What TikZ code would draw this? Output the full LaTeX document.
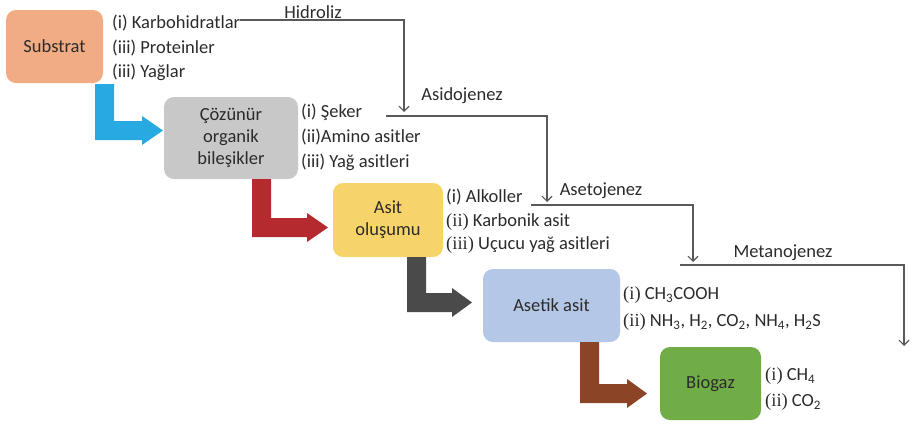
\documentclass[tikz,border=0pt]{standalone}
\usepackage{fontspec}
\setmainfont{Carlito}
\newfontfamily\rmp{Liberation Serif}
\usetikzlibrary{arrows.meta}
\definecolor{txt}{HTML}{2B2B2B}
\definecolor{lin}{HTML}{595959}
\definecolor{subc}{HTML}{F2AC84}
\definecolor{cozc}{HTML}{C8C8C8}
\definecolor{asitc}{HTML}{F7D46A}
\definecolor{asetc}{HTML}{B4C7E7}
\definecolor{bioc}{HTML}{70AD47}
\definecolor{arrblue}{HTML}{29A9E1}
\definecolor{arrred}{HTML}{B52A2E}
\definecolor{arrgray}{HTML}{4A4A4A}
\definecolor{arrbrown}{HTML}{8B4425}
\newcommand\fsz{\fontsize{18.5}{22}\selectfont}
\newcommand\larrow[6]{%
  \fill[#1] (#2,#3) -- ++(19,0) -- (#2+19,#4-19) -- (#5,#4-19) -- (#5,#4-9.5-14.5)
    -- (#6,#4-9.5) -- (#5,#4-9.5+14.5) -- (#5,#4) -- (#2,#4) -- cycle;}
\begin{document}
\begin{tikzpicture}[x=1pt,y=-1pt,
  box/.style={rounded corners=10pt, inner sep=0pt, text=txt, align=center, font=\fsz},
  lst/.style={anchor=west, inner sep=0pt, text height=13.5pt, text depth=2pt, font=\fsz, text=txt},
  lbl/.style={inner sep=0pt, font=\fsz, text=txt},
  proc/.style={draw=lin, line width=1.1pt, -{Straight Barb[length=5pt,width=10pt]}}]
\useasboundingbox (0,0) rectangle (912,424);

% boxes
\node[box, fill=subc, minimum width=97pt, minimum height=73pt] (sub) at (54.5,46.5) {Substrat};
\node[box, fill=cozc, minimum width=134pt, minimum height=82pt] (coz) at (231,138) {Çözünür\\organik\\bileşikler};
\node[box, fill=asitc, minimum width=110pt, minimum height=74pt] (asit) at (388,220) {Asit\\oluşumu};
\node[box, fill=asetc, minimum width=137pt, minimum height=73pt] (aset) at (551.5,305.5) {Asetik asit};
\node[box, fill=bioc, minimum width=101pt, minimum height=73pt] (bio) at (710.5,383.5) {Biogaz};

% thick L arrows
\larrow{arrblue}{95}{84}{140}{142}{163}
\larrow{arrred}{252}{179}{237}{307}{328}
\larrow{arrgray}{407}{257}{312}{452}{472}
\larrow{arrbrown}{580}{342}{403}{627}{647}

% lists
\node[lst] (s1) at (112,23) {(i) Karbohidratlar};
\node[lst] (s2) at (112,48) {(iii) Proteinler};
\node[lst] (s3) at (112,72) {(iii) Yağlar};

\node[lst] (c1) at (301,112) {(i) Şeker};
\node[lst] (c2) at (301,137) {(ii)Amino asitler};
\node[lst] (c3) at (301,162) {(iii) Yağ asitleri};

\node[lst] (a1) at (446,197) {(i) Alkoller};
\node[lst] (a2) at (446,221) {{\rmp(ii)} Karbonik asit};
\node[lst] (a3) at (446,244) {{\rmp(iii)} Uçucu yağ asitleri};

\node[lst] (e1) at (623,294) {{\rmp(i)} CH\textsubscript{3}COOH};
\node[lst] (e2) at (623,321) {{\rmp(ii)} NH\textsubscript{3}, H\textsubscript{2}, CO\textsubscript{2}, NH\textsubscript{4}, H\textsubscript{2}S};

\node[lst] (b1) at (765,375) {{\rmp(i)} CH\textsubscript{4}};
\node[lst] (b2) at (765,401) {{\rmp(ii)} CO\textsubscript{2}};

% process labels
\node[lbl] (hid) at (313,12) {Hidroliz};
\node[lbl] (asid) at (462,96) {Asidojenez};
\node[lbl] (aseto) at (601,191) {Asetojenez};
\node[lbl] (metan) at (783,253) {Metanojenez};

% process lines
\coordinate (h1) at (404,20);
\coordinate (h2) at (404,112);
\draw[proc] (s1.east |- h1) -- (h1) -- (h2);

\coordinate (d0) at (386,116);
\coordinate (d1) at (547,116);
\coordinate (d2) at (547,202);
\draw[proc] (d0) -- (d1) -- (d2);

\coordinate (t0) at (531,205);
\coordinate (t1) at (693,205);
\coordinate (t2) at (693,262);
\draw[proc] (t0) -- (t1) -- (t2);

\coordinate (m0) at (680,265);
\coordinate (m1) at (904,265);
\coordinate (m2) at (904,346);
\draw[proc] (m0) -- (m1) -- (m2);
\end{tikzpicture}
\end{document}
